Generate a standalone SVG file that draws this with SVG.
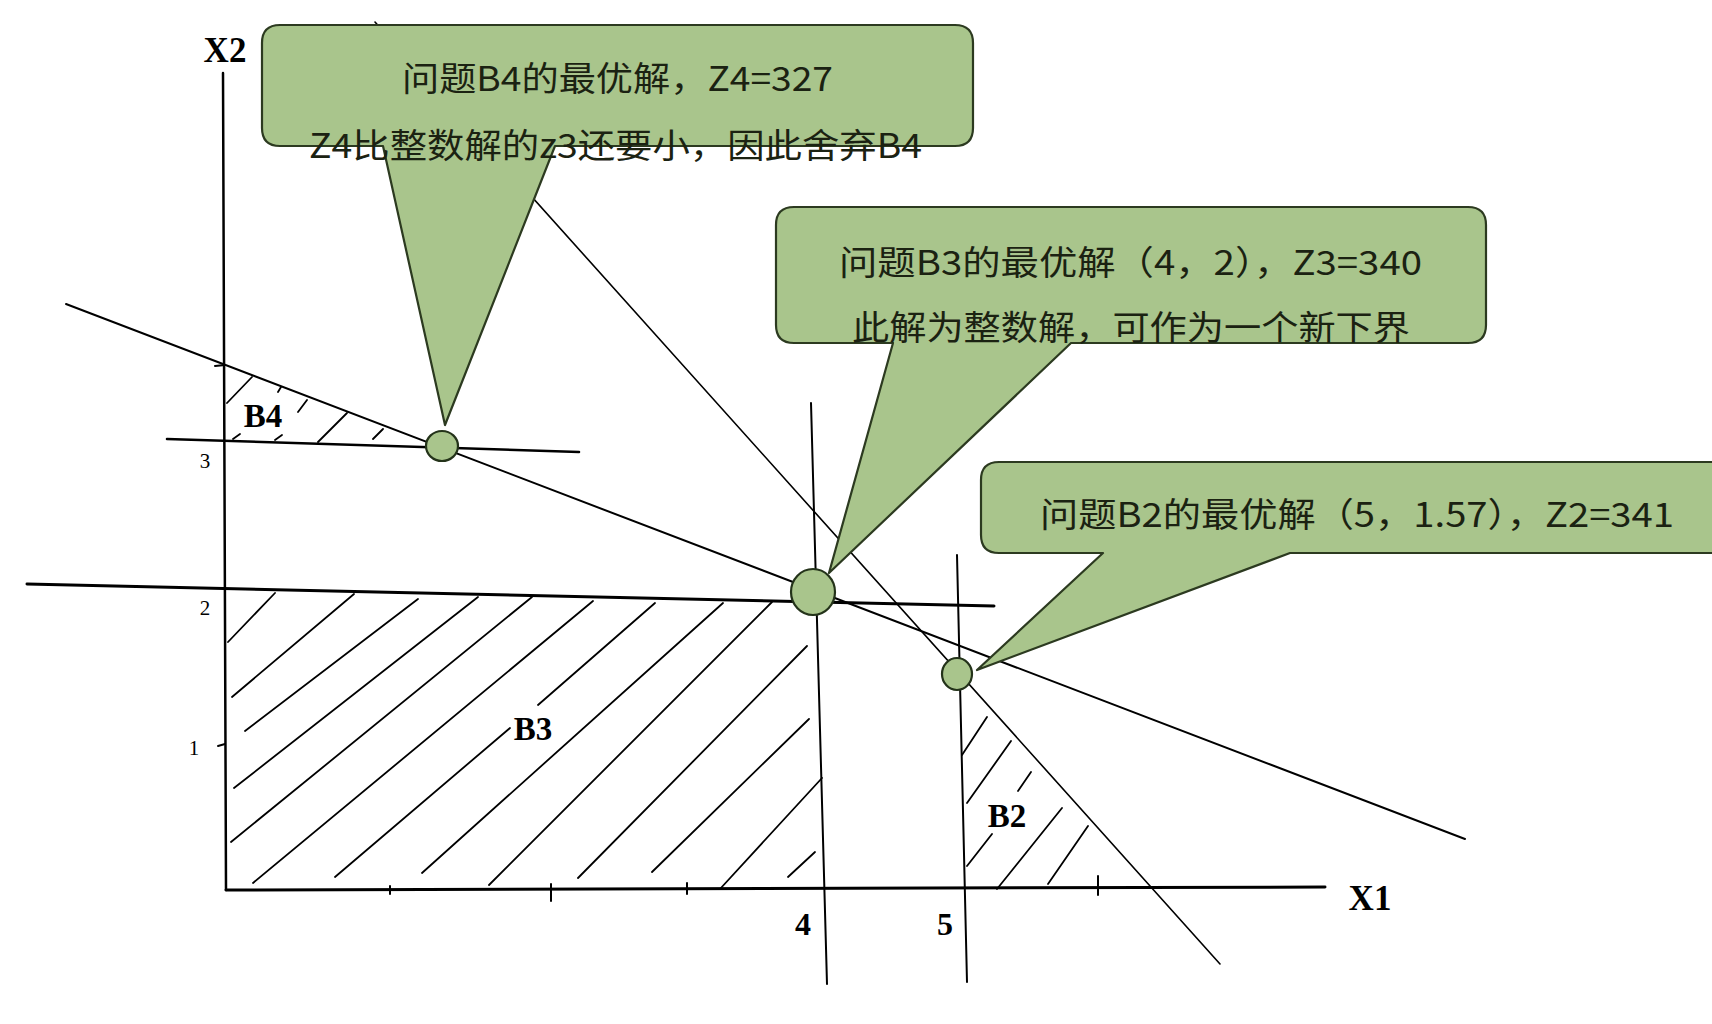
<svg xmlns="http://www.w3.org/2000/svg" width="1712" height="1024" viewBox="0 0 1712 1024">
<style>
.ax{stroke:#000;fill:none;stroke-linecap:round}
.ln{stroke:#000;fill:none;stroke-linecap:round}
.h{stroke:#000;stroke-width:1.8;fill:none;stroke-linecap:round}
.cb{fill:#a9c58c;stroke:#2c3a20;stroke-width:2.2;stroke-linejoin:round}
.dot{fill:#a9c58c;stroke:#24331a;stroke-width:2.2}
.ct{font-family:"Noto Sans CJK SC","Liberation Sans",sans-serif;font-size:34px;fill:#1b2212}
.lb{font-family:"Liberation Serif",serif;font-weight:bold;fill:#000}
.tk{font-family:"Liberation Serif",serif;font-size:21px;fill:#000}
</style>
<rect width="1712" height="1024" fill="#fff"/>
<g id="connectors">
<line class="ln" x1="375" y1="22" x2="1220" y2="964" stroke-width="1.6"/>
<line class="ln" x1="66" y1="304" x2="1465" y2="839" stroke-width="2"/>
<line class="ln" x1="167" y1="439" x2="579" y2="452" stroke-width="2.6"/>
<line class="ln" x1="27" y1="584" x2="994" y2="606" stroke-width="3"/>
<line class="ln" x1="811" y1="403" x2="827" y2="984" stroke-width="2"/>
<line class="ln" x1="957" y1="555" x2="967" y2="982" stroke-width="2"/>
</g>
<g id="axes">
<line class="ax" x1="223" y1="73" x2="226" y2="890" stroke-width="2.5"/>
<line class="ax" x1="226" y1="890" x2="1325" y2="887" stroke-width="3"/>
<line class="ax" x1="215" y1="366" x2="225" y2="365" stroke-width="2"/>
<line class="ax" x1="218" y1="746" x2="225" y2="744" stroke-width="2"/>
<line class="ax" x1="390" y1="886" x2="390" y2="894" stroke-width="2"/>
<line class="ax" x1="551" y1="884" x2="551" y2="901" stroke-width="2"/>
<line class="ax" x1="687" y1="883" x2="687" y2="894" stroke-width="2"/>
<line class="ax" x1="1098" y1="876" x2="1098" y2="895" stroke-width="2"/>
<text class="lb" x="225" y="62" font-size="35" text-anchor="middle">X2</text>
<text class="lb" x="1370" y="910" font-size="35" text-anchor="middle">X1</text>
<text class="lb" x="803" y="935" font-size="32" text-anchor="middle">4</text>
<text class="lb" x="945" y="935" font-size="32" text-anchor="middle">5</text>
<text class="tk" x="205" y="468" text-anchor="middle">3</text>
<text class="tk" x="205" y="615" text-anchor="middle">2</text>
<text class="tk" x="194" y="755" text-anchor="middle">1</text>
</g>
<g id="region-B4">
<path class="h" d="M227,403 L252,377 M233,439 L240,434 M278,392 L281,387 M275,440 L282,435 M298,412 L307,400 M318,442 L347,413 M373,439 L383,429"/>
<text class="lb" x="263" y="427" font-size="33" text-anchor="middle">B4</text>
</g>
<g id="region-B3">
<path class="h" d="M228,642 L275,593 M232,697 L354,594 M245,731 L418,599 M234,788 L478,597 M231,842 L532,597 M253,883 L593,601 M335,877 L510,728 M538,705 L655,603 M422,873 L723,603 M489,885 L772,602 M578,878 L807,646 M652,872 L809,719 M720,889 L822,778 M788,877 L815,852"/>
<text class="lb" x="533" y="740" font-size="33" text-anchor="middle">B3</text>
</g>
<g id="region-B2">
<path class="h" d="M962,755 L987,717 M967,803 L1011,741 M967,866 L992,834 M1018,791 L1031,772 M997,889 L1062,808 M1048,884 L1088,826"/>
<text class="lb" x="1007" y="827" font-size="33" text-anchor="middle">B2</text>
</g>
<g id="callout-B4">
<path class="cb" d="M280,25 H955 Q973,25 973,43 V128 Q973,146 955,146 H555 L445,425 L383,146 H280 Q262,146 262,128 V43 Q262,25 280,25 Z"/>
<text class="ct" x="402" y="91" textLength="431" lengthAdjust="spacingAndGlyphs">问题B4的最优解，Z4=327</text>
<text class="ct" x="309" y="158" textLength="613" lengthAdjust="spacingAndGlyphs">Z4比整数解的z3还要小，因此舍弃B4</text>
</g>
<g id="callout-B3">
<path class="cb" d="M794,207 H1468 Q1486,207 1486,225 V325 Q1486,343 1468,343 H1071 L829,573 L893,343 H794 Q776,343 776,325 V225 Q776,207 794,207 Z"/>
<text class="ct" x="839" y="275" textLength="583" lengthAdjust="spacingAndGlyphs">问题B3的最优解（4，2），Z3=340</text>
<text class="ct" x="852" y="340" textLength="558" lengthAdjust="spacingAndGlyphs">此解为整数解，可作为一个新下界</text>
</g>
<g id="callout-B2">
<path class="cb" d="M999,462 H1730 V553 H1290 L977,670 L1103,553 H999 Q981,553 981,535 V480 Q981,462 999,462 Z"/>
<text class="ct" x="1040" y="527" textLength="634" lengthAdjust="spacingAndGlyphs">问题B2的最优解（5，1.57），Z2=341</text>
</g>
<g id="point-B4"><ellipse class="dot" cx="442" cy="446" rx="16" ry="15"/></g>
<g id="point-B3"><ellipse class="dot" cx="813" cy="592" rx="22" ry="23"/></g>
<g id="point-B2"><ellipse class="dot" cx="957" cy="674" rx="15" ry="16"/></g>
</svg>
